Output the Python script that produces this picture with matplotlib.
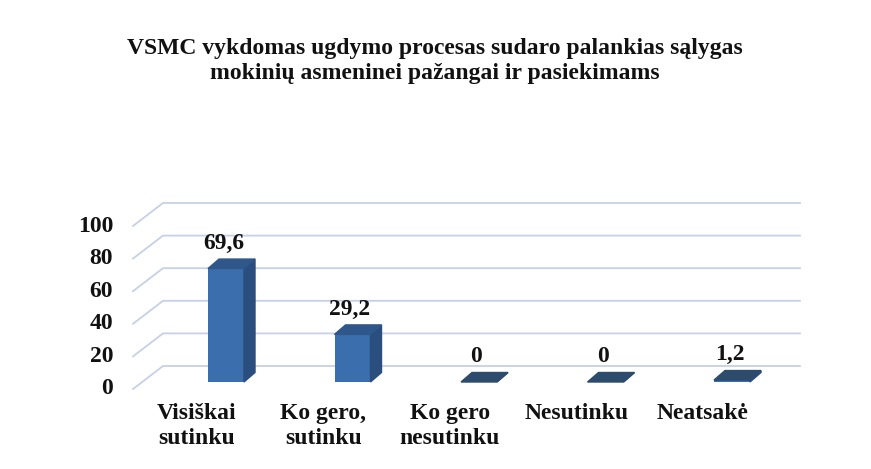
import matplotlib.pyplot as plt
from matplotlib.patches import Polygon

# Data
categories = ['Visiškai\nsutinku', 'Ko gero,\nsutinku', 'Ko gero\nnesutinku',
              'Nesutinku', 'Neatsakė']
values = [69.6, 29.2, 0, 0, 1.2]
value_labels = ['69,6', '29,2', '0', '0', '1,2']
yticks = [0, 20, 40, 60, 80, 100]
title = ('VSMC vykdomas ugdymo procesas sudaro palankias sąlygas\n'
         'mokinių asmeninei pažangai ir pasiekimams')

plt.rcParams['font.family'] = ['Liberation Serif', 'DejaVu Serif']
plt.rcParams['font.weight'] = 'bold'

W, H = 871, 469
fig = plt.figure(figsize=(W / 100, H / 100), dpi=100)

# pixel scale of the fake 3D plot
px_cat = 126.5      # pixels per category
px_val = 1.63       # pixels per value unit
x0_px, y0_px = 226, 382
left, right, top, bottom = 100, 830, 180, 400
ax = fig.add_axes([left / W, 1 - bottom / H, (right - left) / W, (bottom - top) / H])
ax.set_xlim((left - x0_px) / px_cat, (right - x0_px) / px_cat)
ax.set_ylim((y0_px - bottom) / px_val, (y0_px - top) / px_val)
ax.axis('off')

# wall geometry (data units)
x_front, y_front = (133 - x0_px) / px_cat, (y0_px - 389) / px_val
x_back, y_back = (163 - x0_px) / px_cat, (y0_px - 366) / px_val
x_end = (800 - x0_px) / px_cat
grid_col = '#c6d0e6'
fs = 17
for v in yticks:
    ax.plot([x_front, x_back, x_end], [v + y_front, v + y_back, v + y_back],
            color=grid_col, lw=1.3, zorder=1)
    ax.text((113 - x0_px) / px_cat, v + y_front, str(v), ha='right', va='center',
            fontsize=fs, color='#111111')

# bars
bw = 36 / px_cat
dx, dy = 11 / px_cat, 9.5 / px_val
front_col, side_col, top_col = '#3b6ead', '#2a4e7d', '#2f5789'
xs = list(range(len(values)))
ax.bar(xs, values, width=bw, color=front_col, zorder=3)
for x, v, lab in zip(xs, values, value_labels):
    r, l = x + bw / 2, x - bw / 2
    ax.add_patch(Polygon([(r, 0), (r + dx, dy), (r + dx, v + dy), (r, v)],
                         closed=True, color=side_col, zorder=3))
    ax.add_patch(Polygon([(l, v), (l + dx, v + dy), (r + dx, v + dy), (r, v)],
                         closed=True, color=top_col if v > 5 else '#2c4b6d',
                         zorder=3))
    ax.text(x - 0.02, v + 15.5, lab, ha='center', va='center', fontsize=fs,
            color='#111111')

for x, c in zip(xs, categories):
    ax.text(x - 0.23, -13, c, ha='center', va='top', fontsize=fs,
            color='#111111', linespacing=1.25, clip_on=False)

fig.text(435 / W, 1 - 61 / H, title, ha='center', va='center', fontsize=fs,
         color='#111111', linespacing=1.25)

fig.savefig('out.png', dpi=100, facecolor='white')
